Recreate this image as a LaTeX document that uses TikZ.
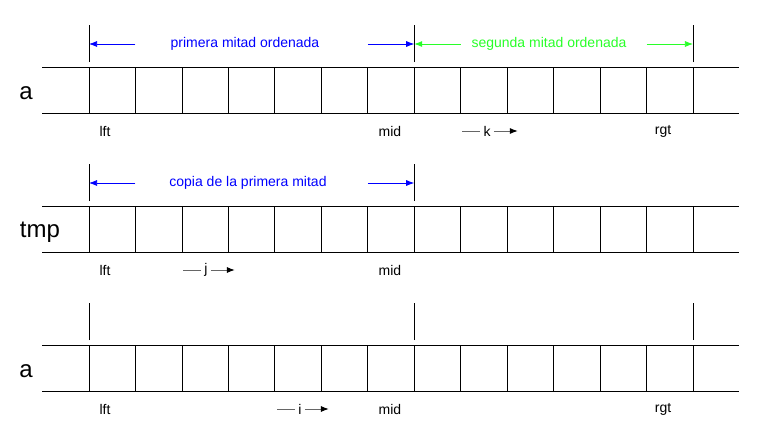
\documentclass[tikz,border=0pt]{standalone}
\usepackage{fontspec}
\setmainfont{Liberation Sans}
\usetikzlibrary{arrows.meta}
\definecolor{azul}{RGB}{0,0,255}
\definecolor{verde}{RGB}{40,255,40}
\begin{document}
\begin{tikzpicture}[x=1pt,y=-1pt,line width=0.75pt,
	lbl/.style={font=\fontsize{14}{16}\selectfont},
	nom/.style={font=\fontsize{24}{28}\selectfont},
	cota/.style={-{Latex[length=8pt,width=6pt]}},
	idx/.style={lbl,inner sep=3pt},
	avance/.style={black!60,line width=1pt,-{Latex[length=8pt,width=6pt,black]}}]
	\useasboundingbox (0,0) rectangle (762,439);
	\foreach \y/\n in {67/a,206/b,345/c} {
		\draw (42,\y) -- (739,\y) (42,\y+46) -- (739,\y+46);
		\foreach \k in {0,...,13} {
			\coordinate (\n\k) at (89+46.46*\k,\y);
			\draw (\n\k) -- ++(0,46);
		}
	}
	\node[nom] (na) at (26,93) {a};
	\node[nom] (nb) at (40,232) {tmp};
	\node[nom] (nc) at (26,371) {a};
	% marcas
	\foreach \p in {a0,a7,a13,b0,b7,c0,c7,c13}
		\draw ([yshift=5pt]\p) -- ([yshift=42pt]\p);
	% cotas
	\draw[cota,azul] ([yshift=23pt]a1) -- ([yshift=23pt]a0);
	\draw[cota,azul] ([yshift=23pt]a6) -- ([yshift=23pt]a7);
	\node[lbl,azul] (pmo) at (245,44) {primera mitad ordenada};
	\draw[cota,verde] ([yshift=23pt]a8) -- ([yshift=23pt]a7);
	\draw[cota,verde] ([yshift=23pt]a12) -- ([yshift=23pt]a13);
	\node[lbl,verde] (smo) at (549,44) {segunda mitad ordenada};
	\draw[cota,azul] ([yshift=23pt]b1) -- ([yshift=23pt]b0);
	\draw[cota,azul] ([yshift=23pt]b6) -- ([yshift=23pt]b7);
	\node[lbl,azul] (cpm) at (248,183) {copia de la primera mitad};
	% indices
	\node[lbl] (lfta) at (105,131) {lft};
	\node[lbl] (mida) at (390,131) {mid};
	\node[lbl] (rgta) at (663,131) {rgt};
	\node[lbl] (lftb) at (105,270) {lft};
	\node[lbl] (midb) at (390,270) {mid};
	\node[lbl] (lftc) at (105,409) {lft};
	\node[lbl] (midc) at (390,409) {mid};
	\node[lbl] (rgtc) at (663,409) {rgt};
	\node[idx] (k) at (487,131) {k};
	\draw[black!60,line width=1pt] (k.west) -- ++(-18,0);
	\draw[avance] (k.east) -- ++(24,0);
	\node[idx] (j) at (206,270) {j};
	\draw[black!60,line width=1pt] (j.west) -- ++(-18,0);
	\draw[avance] (j.east) -- ++(24,0);
	\node[idx] (i) at (300,409) {i};
	\draw[black!60,line width=1pt] (i.west) -- ++(-18,0);
	\draw[avance] (i.east) -- ++(24,0);
\end{tikzpicture}
\end{document}
